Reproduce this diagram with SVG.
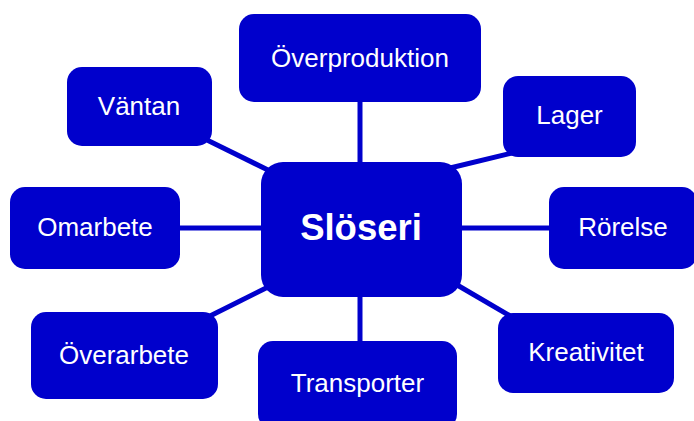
<svg xmlns="http://www.w3.org/2000/svg" width="694" height="421" viewBox="0 0 694 421">
<style>
.box{fill:#0000cc;}
.t{font-family:"Liberation Sans",Arial,sans-serif;font-size:26px;fill:#ffffff;text-anchor:middle;}
.main{font-size:36.5px;font-weight:bold;}
.c{stroke:#0000cc;stroke-width:5;fill:none;}
</style>
<rect width="694" height="421" fill="#ffffff"/>
<g id="connectors">
<line class="c" x1="360" y1="100" x2="360" y2="164"/>
<line class="c" x1="360" y1="295" x2="360" y2="343"/>
<line class="c" x1="178" y1="228" x2="263" y2="228"/>
<line class="c" x1="460" y1="228" x2="551" y2="228"/>
<line class="c" x1="207" y1="140" x2="272" y2="172"/>
<line class="c" x1="450" y1="168" x2="516" y2="152"/>
<line class="c" x1="208" y1="317" x2="272" y2="285"/>
<line class="c" x1="452" y1="282" x2="512" y2="317"/>
</g>
<g id="n-center"><rect class="box" x="261" y="162" width="201" height="135" rx="22"/><text class="t main" x="361" y="240">Slöseri</text></g>
<g id="n-overproduktion"><rect class="box" x="239" y="14" width="242" height="88" rx="15"/><text class="t" x="360" y="67">Överproduktion</text></g>
<g id="n-vantan"><rect class="box" x="67" y="67" width="145" height="79" rx="15"/><text class="t" x="139" y="115">Väntan</text></g>
<g id="n-lager"><rect class="box" x="503" y="76" width="133" height="81" rx="15"/><text class="t" x="569.5" y="124">Lager</text></g>
<g id="n-omarbete"><rect class="box" x="10" y="187" width="170" height="82" rx="15"/><text class="t" x="95" y="236">Omarbete</text></g>
<g id="n-rorelse"><rect class="box" x="549" y="187" width="148" height="82" rx="15"/><text class="t" x="623" y="236">Rörelse</text></g>
<g id="n-overarbete"><rect class="box" x="31" y="312" width="187" height="87" rx="15"/><text class="t" x="124" y="364">Överarbete</text></g>
<g id="n-transporter"><rect class="box" x="258" y="341" width="199" height="88" rx="15"/><text class="t" x="357.5" y="392">Transporter</text></g>
<g id="n-kreativitet"><rect class="box" x="498" y="313" width="176" height="80" rx="15"/><text class="t" x="586" y="361">Kreativitet</text></g>
</svg>
